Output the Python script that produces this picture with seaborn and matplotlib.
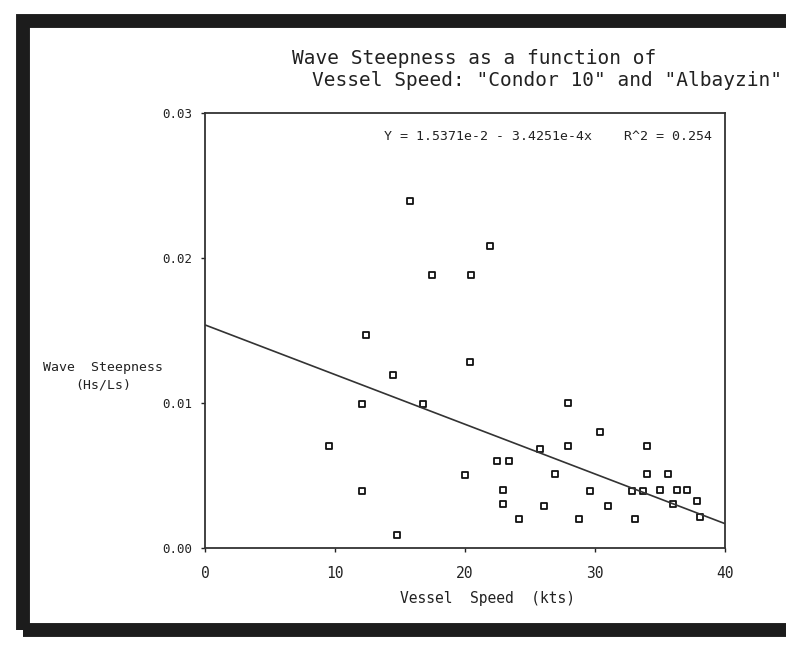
import numpy as np
import pandas as pd
import matplotlib
matplotlib.use('Agg')
import matplotlib.pyplot as plt
from matplotlib.patches import Rectangle
import seaborn as sns

# 船速 (kts) 与 波陡 (Hs/Ls)，从扫描图上读取的估计值
speed = [15.8, 21.9, 17.5, 20.5, 12.4, 20.4, 14.5, 12.1, 16.8, 9.5,
         12.1, 14.8, 20.0, 22.5, 23.4, 22.9, 22.9, 24.2, 26.1, 26.9,
         25.8, 27.9, 27.9, 28.8, 29.6, 30.4, 31.0, 33.1, 32.9, 33.7,
         34.0, 34.0, 35.6, 35.0, 36.0, 36.3, 37.1, 37.9, 38.1]
steepness = [0.0239, 0.0208, 0.0188, 0.0188, 0.0147, 0.0128, 0.0119, 0.0099, 0.0099, 0.0070,
             0.0039, 0.0009, 0.0050, 0.0060, 0.0060, 0.0040, 0.0030, 0.0020, 0.0029, 0.0051,
             0.0068, 0.0100, 0.0070, 0.0020, 0.0039, 0.0080, 0.0029, 0.0020, 0.0039, 0.0039,
             0.0070, 0.0051, 0.0051, 0.0040, 0.0030, 0.0040, 0.0040, 0.0032, 0.0021]

# 回归方程系数 (图中标注)
intercept = 1.5371e-2
slope = -3.4251e-4
r2 = 0.254

x_ticks = [0, 10, 20, 30, 40]
y_ticks = [0.00, 0.01, 0.02, 0.03]

sns.set_style('ticks')
# 老式绘图仪的字体字距很宽，用等宽字体近似
plt.rcParams['font.family'] = ['DejaVu Sans Mono', 'DejaVu Sans']

df = pd.DataFrame({'speed': speed, 'steep': steepness})
fit_x = np.array([x_ticks[0], x_ticks[-1]], dtype=float)
df_fit = pd.DataFrame({'speed': fit_x, 'steep': intercept + slope * fit_x})

fig = plt.figure(figsize=(7.86, 6.49), dpi=100)
ax = fig.add_axes([0.261, 0.156, 0.661, 0.670])

sns.lineplot(data=df_fit, x='speed', y='steep', ax=ax, color='#333333', linewidth=1.2)
sns.scatterplot(data=df, x='speed', y='steep', ax=ax, marker='s', s=24,
                facecolor='white', edgecolor='#111111', linewidth=1.3)

ax.set_xlim(0, 40)
ax.set_ylim(0, 0.03)
ax.set_xticks(x_ticks)
ax.set_yticks(y_ticks)
ax.set_xticklabels([str(t) for t in x_ticks], fontsize=10.5)
ax.set_yticklabels(['%.2f' % t for t in y_ticks], fontsize=9)
ax.tick_params(axis='both', direction='out', length=3, width=1, colors='#222222', pad=6)
ax.tick_params(axis='x', pad=10)
for sp in ax.spines.values():
    sp.set_visible(True)
    sp.set_color('#333333')
    sp.set_linewidth(1.3)
ax.set_xlabel('')
ax.set_ylabel('')

ax.text(0.975, 0.945,
        'Y = %.4fe-2 - %.4fe-4x    R^2 = %.3f' % (intercept * 100, -slope * 1e4, r2),
        transform=ax.transAxes, ha='right', va='center', fontsize=9.5, color='#222222')

# 标题 (两行, 左对齐错开)
fig.text(292 / 786, 1 - 58 / 649, 'Wave Steepness as a function of',
         ha='left', va='center', fontsize=14, color='#222222')
fig.text(312 / 786, 1 - 80 / 649, 'Vessel Speed: "Condor 10" and "Albayzin"',
         ha='left', va='center', fontsize=14, color='#222222')

# 轴标题
fig.text(103 / 786, 1 - 367 / 649, 'Wave  Steepness', ha='center', va='center',
         fontsize=9.5, color='#222222')
fig.text(103 / 786, 1 - 385 / 649, '(Hs/Ls)', ha='center', va='center',
         fontsize=9.5, color='#222222')
fig.text(488 / 786, 1 - 598 / 649, 'Vessel  Speed  (kts)', ha='center', va='center',
         fontsize=10.5, color='#222222')

# 扫描件的黑色边框
fig.add_artist(Rectangle((23 / 786, 19 / 649), 1.05, 1 - 40 / 649,
                         transform=fig.transFigure, fill=False,
                         edgecolor='#1c1c1c', linewidth=10))

fig.savefig('out.png', dpi=100)
